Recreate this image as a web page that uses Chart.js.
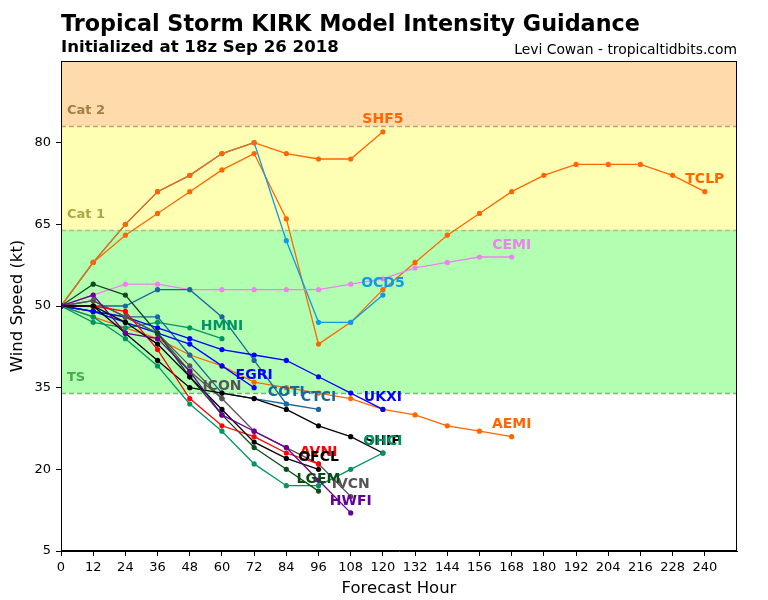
<!DOCTYPE html>
<html>
<head>
<meta charset="utf-8">
<script src="https://cdn.jsdelivr.net/npm/chart.js@4.4.0/dist/chart.umd.min.js"></script>
<style>
  body { margin: 0; background: #fff; font-family: "DejaVu Sans", sans-serif; }
  #wrap { position: relative; width: 768px; height: 600px; }
  .txt { position: absolute; line-height: 1; white-space: nowrap; color: #000; }
  #title { left: 61px; top: 12px; font-size: 22.3px; font-weight: bold; }
  #sub { left: 61px; top: 39px; font-size: 16.6px; font-weight: bold; }
  #credit { right: 31px; top: 43px; font-size: 13.9px; }
</style>
</head>
<body>
<div id="wrap">
  <canvas id="chart" width="768" height="600"></canvas>
  <div class="txt" id="title">Tropical Storm KIRK Model Intensity Guidance</div>
  <div class="txt" id="sub">Initialized at 18z Sep 26 2018</div>
  <div class="txt" id="credit">Levi Cowan - tropicaltidbits.com</div>
</div>
<script>
/* DATA */
const hours = [0, 12, 24, 36, 48, 60, 72, 84, 96, 108, 120, 132, 144, 156, 168, 180, 192, 204, 216, 228, 240];
const xTicks = hours;
const yTicks = [5, 20, 35, 50, 65, 80];

const tclp = [50, 58, 63, 67, 71, 75, 78, 66, 43, 47, 53, 58, 63, 67, 71, 74, 76, 76, 76, 74, 71];
const shf5 = [50, 58, 65, 71, 74, 78, 80, 78, 77, 77, 82];
const ocd5 = [50, 58, 65, 71, 74, 78, 80, 62, 47, 47, 52];
const cemi = [50, 52, 54, 54, 53, 53, 53, 53, 53, 54, 55, 57, 58, 59, 59];
const aemi = [50, 48, 46, 44, 41, 39, 36, 35, 34, 33, 31, 30, 28, 27, 26];
const ukxi = [50, 49, 48, 46, 44, 42, 41, 40, 37, 34, 31];
const egri = [50, 49, 47, 45, 43, 39, 35];
const hmni = [50, 47, 46, 47, 46, 44];
const coti = [50, 50, 50, 53, 53, 48, 40, 32];
const ctci = [50, 49, 48, 48, 41, 34, 33, 32, 31];
const icon = [50, 51, 48, 45, 39, 33];
const ivcn = [50, 51, 48, 45, 38, 33, 27, 24, 21, 15];
const ship = [50, 50, 45, 40, 35, 34, 33, 31, 28, 26, 23];
const ohci = [50, 48, 44, 39, 32, 27, 21, 17, 17, 20, 23];
const lgem = [50, 54, 52, 45, 37, 30, 24, 20, 16];
const avni = [50, 50, 49, 42, 33, 28, 26, 23, 21];
const ofcl = [50, 50, 47, 43, 37, 31, 25, 22, 20];
const hwfi = [50, 52, 45, 44, 38, 30, 27, 24, 18, 12];

/* intensity categories (kt) */
const bandNames = ["TS", "Cat 1", "Cat 2"];
const bandLimits = [34, 64, 83];

/* STYLES */
const bandFill = ["#b2ffb2", "#ffffb3", "#ffdbac"];
const bandLine = ["#6cbf6c", "#bdb86e", "#c4a46e"];
const bandText = ["#48a848", "#a8a846", "#a67c44"];

// later entries are drawn on top
const series = [
  ["TCLP", tclp, "#ff6600"],
  ["OCD5", ocd5, "#0e9ae8"],
  ["SHF5", shf5, "#ff6600"],
  ["CEMI", cemi, "#ee82ee"],
  ["AEMI", aemi, "#ff6600"],
  ["HMNI", hmni, "#009462"],
  ["COTI", coti, "#17699c"],
  ["CTCI", ctci, "#17699c"],
  ["UKXI", ukxi, "#0000ff"],
  ["EGRI", egri, "#0000ff"],
  ["ICON", icon, "#555555"],
  ["IVCN", ivcn, "#555555"],
  ["SHIP", ship, "#000000"],
  ["OHCI", ohci, "#009462"],
  ["LGEM", lgem, "#0b4d17"],
  ["AVNI", avni, "#ff0000"],
  ["OFCL", ofcl, "#000000"],
  ["HWFI", hwfi, "#660099"]
];

const datasets = series.map(([name, vals, color], i) => ({
  label: name,
  data: vals.map((v, j) => ({ x: hours[j], y: v })),
  order: series.length - i,
  borderColor: color,
  backgroundColor: color,
  borderWidth: 1.3,
  pointRadius: 2.6,
  pointBorderWidth: 0,
  pointHoverRadius: 2.6,
  tension: 0
}));

/* BANDS */
const backdrop = {
  id: "backdrop",
  beforeDatasetsDraw(chart) {
    const { ctx, chartArea: a, scales: { y } } = chart;
    const edges = bandLimits.concat([y.max]);
    ctx.save();
    for (let i = 0; i < bandNames.length; i++) {
      const top = y.getPixelForValue(edges[i + 1]);
      const bot = y.getPixelForValue(edges[i]);
      ctx.fillStyle = bandFill[i];
      ctx.fillRect(a.left, top, a.right - a.left, bot - top);
    }
    for (let i = 0; i < bandNames.length; i++) {
      const ly = Math.round(y.getPixelForValue(edges[i])) + 0.5;
      ctx.strokeStyle = bandLine[i];
      ctx.lineWidth = 1.3;
      ctx.setLineDash([5, 3]);
      ctx.beginPath();
      ctx.moveTo(a.left, ly);
      ctx.lineTo(a.right, ly);
      ctx.stroke();
      ctx.setLineDash([]);
      ctx.fillStyle = bandText[i];
      ctx.font = "bold 13px 'DejaVu Sans'";
      ctx.textAlign = "left";
      ctx.textBaseline = "middle";
      ctx.fillText(bandNames[i], a.left + 6, ly - 16);
    }
    ctx.restore();
  }
};

/* MODEL NAMES AT LAST POINT + FRAME */
const tags = {
  id: "tags",
  afterDatasetsDraw(chart) {
    const { ctx } = chart;
    ctx.save();
    ctx.font = "bold 14px 'DejaVu Sans'";
    ctx.textAlign = "center";
    ctx.textBaseline = "middle";
    chart.data.datasets.forEach((ds, i) => {
      const pts = chart.getDatasetMeta(i).data;
      const p = pts[pts.length - 1];
      ctx.fillStyle = ds.borderColor;
      ctx.fillText(ds.label, p.x, p.y - 12);
    });
    ctx.restore();
  },
  afterDraw(chart) {
    const { ctx, chartArea: a } = chart;
    ctx.save();
    ctx.strokeStyle = "#000";
    ctx.lineWidth = 1;
    ctx.strokeRect(Math.round(a.left) + 0.5, Math.round(a.top) + 0.5,
      Math.round(a.right - a.left) - 1, Math.round(a.bottom - a.top) - 1);
    ctx.restore();
  }
};

const tickFont = { family: "DejaVu Sans", size: 13 };

new Chart(document.getElementById("chart"), {
  type: "line",
  data: { datasets },
  options: {
    responsive: false,
    animation: false,
    events: [],
    layout: { padding: { top: 61, right: 31, left: 0, bottom: 0 } },
    plugins: { legend: { display: false }, tooltip: { enabled: false } },
    scales: {
      x: {
        type: "linear",
        min: 0,
        max: 252,
        afterBuildTicks: s => { s.ticks = xTicks.map(v => ({ value: v })); },
        afterFit: s => { s.height = 49; },
        ticks: { font: tickFont, color: "#000", padding: 4, maxRotation: 0, autoSkip: false },
        grid: { drawOnChartArea: false, drawTicks: true, tickLength: 5, tickColor: "#000" },
        border: { display: true, color: "#000" },
        title: { display: true, text: "Forecast Hour", color: "#000",
          font: { family: "DejaVu Sans", size: 16.5 }, padding: { top: 0, bottom: 1 } }
      },
      y: {
        min: 5,
        max: 95,
        afterBuildTicks: s => { s.ticks = yTicks.map(v => ({ value: v })); },
        afterFit: s => { s.width = 61; },
        ticks: { font: tickFont, color: "#000", padding: 5 },
        grid: { drawOnChartArea: false, drawTicks: true, tickLength: 5, tickColor: "#000" },
        border: { display: true, color: "#000" },
        title: { display: true, text: "Wind Speed (kt)", color: "#000",
          font: { family: "DejaVu Sans", size: 16.5 }, padding: { top: 8, bottom: 0 } }
      }
    }
  },
  plugins: [backdrop, tags]
});
</script>
</body>
</html>
